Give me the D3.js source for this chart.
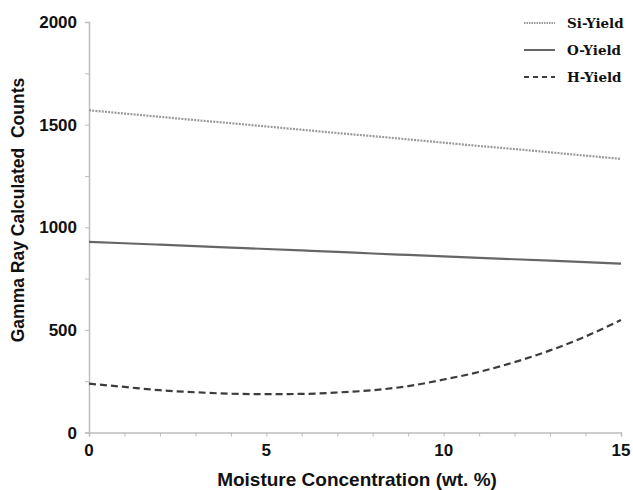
<!DOCTYPE html>
<html>
<head>
<meta charset="utf-8">
<script src="https://cdn.jsdelivr.net/npm/d3@7"></script>
<style>
  body { margin: 0; background: #fff; }
  svg text { font-family: "Liberation Sans", Arial, sans-serif; }
</style>
</head>
<body>
<div id="chart-area"></div>
<script>
// moisture concentration (wt. %)
const moisture = [0, 1, 2, 3, 4, 5, 6, 7, 8, 9, 10, 11, 12, 13, 14, 15];
const siYield = [1570, 1554, 1538, 1522, 1507, 1491, 1475, 1459, 1444, 1428, 1412, 1396, 1381, 1365, 1349, 1333];
const oYield = [929, 922, 915, 908, 901, 894, 887, 880, 872, 865, 858, 851, 844, 837, 830, 823];
const hYield = [238, 222, 206, 196, 189, 187, 188, 195, 206, 226, 258, 295, 343, 400, 468, 548];
const xTicks = [0, 5, 10, 15];
const yTicks = [0, 500, 1000, 1500, 2000];

const series = [
  { name: "Si-Yield", values: siYield, color: "#9a9a9a", dash: "2,1.2", width: 2.2 },
  { name: "O-Yield", values: oYield, color: "#666", dash: null, width: 2.2 },
  { name: "H-Yield", values: hYield, color: "#3c3c3c", dash: "7,4", width: 2.2 }
];

const margin = { top: 22, right: 12, bottom: 57, left: 89 };
const width = 633 - margin.left - margin.right;
const height = 490 - margin.top - margin.bottom;

const svg = d3.select("#chart-area")
  .append("svg")
  .attr("width", 633)
  .attr("height", 490);

const g = svg.append("g")
  .attr("transform", `translate(${margin.left},${margin.top})`);

const x = d3.scaleLinear().domain([0, 15]).range([0, 532]);
const y = d3.scaleLinear().domain([0, 2000]).range([height - 0.5, 0]);

// axes
const xAxis = g.append("g")
  .attr("transform", `translate(0,${y(0)})`)
  .call(d3.axisBottom(x).tickValues(d3.range(0, 16)).tickSize(4).tickFormat(""));
const yAxis = g.append("g")
  .call(d3.axisLeft(y).tickValues(d3.range(0, 2001, 250)).tickSize(4).tickFormat(""));

[xAxis, yAxis].forEach(a => {
  a.select(".domain").attr("stroke", "#bdbdbd").attr("stroke-width", 1.5);
  a.selectAll(".tick line").attr("stroke", "#bdbdbd");
});

g.selectAll(".xlab")
  .data(xTicks)
  .enter()
  .append("text")
  .attr("x", d => x(d))
  .attr("y", y(0) + 23)
  .attr("text-anchor", "middle")
  .attr("font-size", 17)
  .attr("font-weight", "bold")
  .attr("fill", "#111")
  .text(d => d);

g.selectAll(".ylab")
  .data(yTicks)
  .enter()
  .append("text")
  .attr("x", -12)
  .attr("y", d => y(d) + 6)
  .attr("text-anchor", "end")
  .attr("font-size", 17)
  .attr("font-weight", "bold")
  .attr("fill", "#111")
  .text(d => d);

// axis titles
svg.append("text")
  .attr("x", 357)
  .attr("y", 486)
  .attr("text-anchor", "middle")
  .attr("font-size", 19)
  .attr("font-weight", "bold")
  .attr("fill", "#111")
  .text("Moisture Concentration (wt. %)");

svg.append("text")
  .attr("transform", "translate(24,210) rotate(-90)")
  .attr("text-anchor", "middle")
  .attr("font-size", 17.5)
  .attr("font-weight", "bold")
  .attr("fill", "#111")
  .style("white-space", "pre")
  .attr("xml:space", "preserve")
  .text("Gamma Ray Calculated  Counts");

// lines
const line = d3.line()
  .x((d, i) => x(moisture[i]))
  .y(d => y(d))
  .curve(d3.curveMonotoneX);

g.selectAll(".series")
  .data(series)
  .enter()
  .append("path")
  .attr("class", "series")
  .attr("fill", "none")
  .attr("stroke", d => d.color)
  .attr("stroke-width", d => d.width)
  .attr("stroke-dasharray", d => d.dash)
  .attr("d", d => line(d.values));

// legend
const legend = svg.selectAll(".legend")
  .data(series)
  .enter()
  .append("g")
  .attr("class", "legend")
  .attr("transform", (d, i) => `translate(524, ${23 + i * 27})`);

legend.append("line")
  .attr("x1", 0)
  .attr("x2", 31)
  .attr("stroke", d => d.color)
  .attr("stroke-width", 2)
  .attr("stroke-dasharray", d => d.dash ? (d.name === "H-Yield" ? "5,4" : "1.5,1") : null);

legend.append("text")
  .attr("x", 43)
  .attr("y", 5)
  .attr("font-size", 13.5)
  .attr("font-weight", "bold")
  .style("font-family", "'DejaVu Serif', serif")
  .attr("fill", "#111")
  .text(d => d.name);
</script>
</body>
</html>
